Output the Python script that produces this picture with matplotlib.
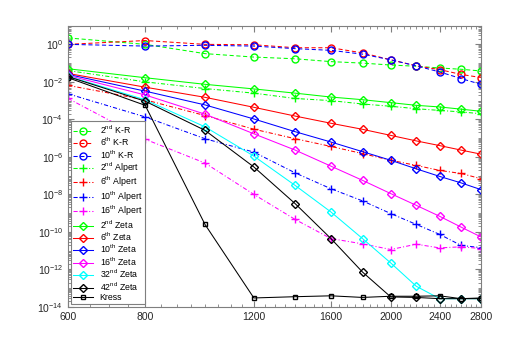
import matplotlib
matplotlib.use('Agg')
import matplotlib.pyplot as plt
from matplotlib.ticker import FixedLocator, FixedFormatter, NullFormatter, LogLocator

plt.rcParams['font.family'] = ['Liberation Sans', 'DejaVu Sans']
plt.rcParams['mathtext.fontset'] = 'custom'
plt.rcParams['mathtext.rm'] = 'Liberation Sans'
plt.rcParams['mathtext.default'] = 'regular'

# dane
N = [600, 800, 1000, 1200, 1400, 1600, 1800, 2000, 2200, 2400, 2600, 2800]

kr2 = [2.2, 1.0, 0.32, 0.21, 0.17, 0.12, 0.10, 0.079, 0.068, 0.055, 0.047, 0.038]
kr6 = [1.0, 1.6, 1.0, 0.95, 0.66, 0.66, 0.35, 0.15, 0.072, 0.045, 0.025, 0.017]
kr10 = [1.0, 0.81, 0.89, 0.81, 0.59, 0.48, 0.30, 0.15, 0.071, 0.034, 0.015, 0.0074]

al2 = [0.04, 0.01, 4.4e-3, 2.5e-3, 1.3e-3, 1.0e-3, 6.6e-4, 5.0e-4, 3.7e-4, 3.0e-4, 2.5e-4, 2.0e-4]
al6 = [6.5e-3, 1.1e-3, 1.6e-4, 3.0e-5, 9.3e-6, 3.6e-6, 1.5e-6, 6.6e-7, 3.5e-7, 1.9e-7, 1.3e-7, 6.9e-8]
al10 = [2.3e-3, 1.35e-4, 9.3e-6, 1.8e-6, 1.4e-7, 2.0e-8, 4.5e-9, 9.5e-10, 2.5e-10, 7.4e-11, 1.9e-11, 1.45e-11]
al16 = [1.3e-3, 8.7e-6, 4.7e-7, 1.0e-8, 4.6e-10, 4.4e-11, 2.3e-11, 1.15e-11, 2.2e-11, 1.4e-11, 1.6e-11, 1.3e-11]

z2 = [0.05, 0.0166, 7.4e-3, 4.2e-3, 2.5e-3, 1.55e-3, 1.12e-3, 7.8e-4, 5.6e-4, 4.6e-4, 3.5e-4, 2.7e-4]
z6 = [0.028, 5.2e-3, 1.5e-3, 4.4e-4, 1.5e-4, 6.2e-5, 2.95e-5, 1.4e-5, 7.1e-6, 4.0e-6, 2.3e-6, 1.4e-6]
z10 = [0.025, 3.2e-3, 5.9e-4, 1.05e-4, 2.2e-5, 6.2e-6, 1.9e-6, 6.6e-7, 2.3e-7, 9.1e-8, 4.1e-8, 1.8e-8]
z16 = [0.022, 2.0e-3, 1.9e-4, 1.7e-5, 2.3e-6, 3.2e-7, 5.6e-8, 1.1e-8, 2.6e-9, 6.8e-10, 1.8e-10, 5.4e-11]
z32 = [0.02, 1.1e-3, 4.0e-5, 1.1e-6, 3.0e-8, 1.15e-9, 4.4e-11, 2.2e-12, 1.26e-13, 2.75e-14, 2.75e-14, 2.75e-14]
z42 = [0.019, 9.3e-4, 2.6e-5, 2.9e-7, 3.2e-9, 4.4e-11, 7.2e-13, 3.4e-14, 3.2e-14, 2.75e-14, 2.75e-14, 2.75e-14]
kress = [0.0166, 5.6e-4, 2.5e-10, 3.0e-14, 3.5e-14, 3.9e-14, 3.2e-14, 3.7e-14, 3.7e-14, 3.9e-14, 2.75e-14, 3.0e-14]

xticks = [600, 800, 1200, 1600, 2000, 2400, 2800]

fig = plt.figure(figsize=(5.32, 3.46), dpi=100)
ax = fig.add_axes([0.128, 0.113, 0.776, 0.813])

lw = 0.75
dash = (0, (4, 2.5))
dashdot = (0, (4, 2, 1, 2))
ax.plot(N, kr2, marker='o', ls=dash, color=(0, 1, 0), lw=lw, ms=5, mfc='none', label='2$^{nd}$ K-R')
ax.plot(N, kr6, marker='o', ls=dash, color=(1, 0, 0), lw=lw, ms=5, mfc='none', label='6$^{th}$ K-R')
ax.plot(N, kr10, marker='o', ls=dash, color=(0, 0, 1), lw=lw, ms=5, mfc='none', label='10$^{th}$ K-R')
ax.plot(N, al2, marker='+', ls=dashdot, color=(0, 1, 0), lw=lw, ms=5.5, label='2$^{nd}$ Alpert')
ax.plot(N, al6, marker='+', ls=dashdot, color=(1, 0, 0), lw=lw, ms=5.5, label='6$^{th}$ Alpert')
ax.plot(N, al10, marker='+', ls=dashdot, color=(0, 0, 1), lw=lw, ms=5.5, label='10$^{th}$ Alpert')
ax.plot(N, al16, marker='+', ls=dashdot, color=(1, 0, 1), lw=lw, ms=5.5, label='16$^{th}$ Alpert')
ax.plot(N, z2, '-D', color=(0, 1, 0), lw=lw, ms=4, mfc='none', label='2$^{nd}$ Zeta')
ax.plot(N, z6, '-D', color=(1, 0, 0), lw=lw, ms=4, mfc='none', label='6$^{th}$ Zeta')
ax.plot(N, z10, '-D', color=(0, 0, 1), lw=lw, ms=4, mfc='none', label='10$^{th}$ Zeta')
ax.plot(N, z16, '-D', color=(1, 0, 1), lw=lw, ms=4, mfc='none', label='16$^{th}$ Zeta')
ax.plot(N, z32, '-D', color=(0, 1, 1), lw=lw, ms=4, mfc='none', label='32$^{nd}$ Zeta')
ax.plot(N, z42, '-D', color='k', lw=lw, ms=4, mfc='none', label='42$^{nd}$ Zeta')
ax.plot(N, kress, '-s', color='k', lw=lw, ms=3.5, mfc='none', label='Kress')

ax.set_xscale('log')
ax.set_yscale('log')
ax.set_xlim(600, 2800)
ax.set_ylim(1e-14, 1e1)

ax.xaxis.set_major_locator(FixedLocator(xticks))
ax.xaxis.set_major_formatter(FixedFormatter([str(t) for t in xticks]))
ax.xaxis.set_minor_locator(FixedLocator(list(range(600, 2801, 50))))
ax.xaxis.set_minor_formatter(NullFormatter())
ax.yaxis.set_major_locator(FixedLocator([10.0**k for k in range(-14, 1, 2)]))
ax.yaxis.set_minor_locator(LogLocator(base=10, subs=range(1, 10), numticks=50))
ax.yaxis.set_minor_formatter(NullFormatter())

grey = '#7f7f7f'
for s in ax.spines.values():
    s.set_color(grey)
    s.set_linewidth(0.8)
ax.tick_params(which='both', direction='in', top=True, right=True, colors=grey,
               labelcolor='#262626', labelsize=7.5)
ax.tick_params(which='major', length=4)
ax.tick_params(which='minor', length=2)

leg = ax.legend(loc='lower left', fontsize=6.3, fancybox=False, edgecolor=grey,
                framealpha=1, labelspacing=0.0, handlelength=2.3,
                borderaxespad=0.3, borderpad=0.3, handletextpad=0.7)
leg.get_frame().set_linewidth(0.8)

fig.savefig('out.png', dpi=100)
